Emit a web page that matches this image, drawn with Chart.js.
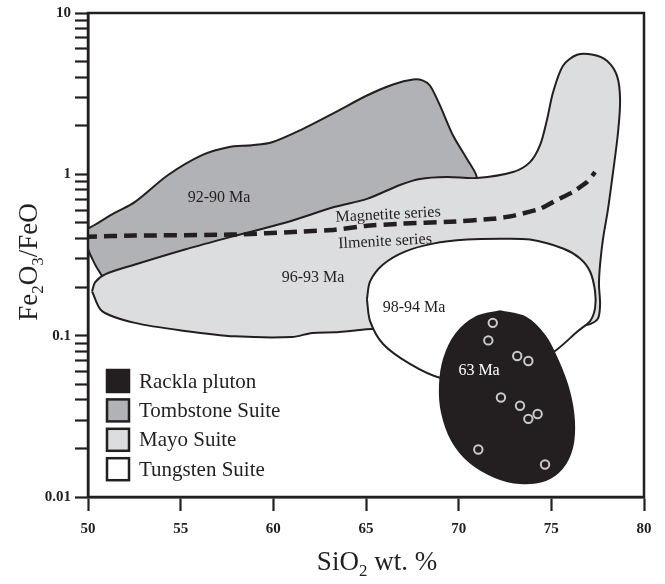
<!DOCTYPE html>
<html>
<head>
<meta charset="utf-8">
<script src="https://cdn.jsdelivr.net/npm/chart.js@4.4.1/dist/chart.umd.min.js"></script>
<style>
  html, body { margin: 0; padding: 0; background: #fff; }
  #c { display: block; }
</style>
</head>
<body>
<canvas id="c" width="665" height="584"></canvas>
<script>
// Fe2O3/FeO vs SiO2 discrimination diagram (log y)

// Tombstone Suite field outline (SiO2 wt.%, Fe2O3/FeO)
const tombstoneX = [50.00, 50.38, 51.46, 52.54, 54.32, 56.15, 57.56, 58.85, 59.93, 61.55, 63.33, 65.05, 66.46, 67.54, 68.08, 68.45, 68.99, 69.69, 70.45, 70.99, 70.61, 67.75, 66.83, 65.05, 63.22, 61.44, 57.77, 55.23, 52.54, 51.08, 50.54, 50.22, 50.00, 50.00];
const tombstoneY = [0.460, 0.487, 0.578, 0.675, 0.990, 1.315, 1.473, 1.515, 1.581, 1.901, 2.420, 3.081, 3.601, 3.867, 3.811, 3.550, 2.673, 1.747, 1.243, 0.949, 0.835, 0.812, 0.756, 0.611, 0.530, 0.460, 0.356, 0.296, 0.240, 0.217, 0.257, 0.301, 0.347, 0.460];

// Mayo Suite field outline
const mayoX = [50.22, 50.38, 50.92, 52.54, 55.23, 57.77, 60.63, 63.33, 65.05, 66.83, 67.91, 69.37, 70.99, 72.93, 73.85, 74.39, 74.77, 75.09, 75.63, 76.39, 77.25, 78.00, 78.54, 78.71, 78.60, 78.33, 78.06, 77.79, 77.63, 77.57, 77.63, 77.52, 77.09, 76.55, 71.15, 65.38, 64.14, 63.33, 62.09, 61.01, 57.93, 55.23, 52.54, 50.76, 50.22];
const mayoY = [0.188, 0.214, 0.240, 0.276, 0.342, 0.411, 0.501, 0.629, 0.704, 0.859, 0.936, 0.962, 0.949, 1.033, 1.191, 1.515, 2.191, 3.215, 4.716, 5.511, 5.511, 5.062, 4.090, 2.911, 1.823, 1.033, 0.611, 0.399, 0.276, 0.208, 0.157, 0.128, 0.118, 0.115, 0.104, 0.110, 0.107, 0.105, 0.104, 0.098, 0.099, 0.107, 0.120, 0.142, 0.188];

// Tungsten Suite field outline
const tungstenX = [65.05, 65.22, 65.92, 67.10, 68.62, 70.45, 72.23, 73.85, 75.63, 76.55, 77.09, 77.36, 77.36, 77.09, 76.44, 75.20, 73.31, 71.15, 68.99, 67.37, 65.92, 65.22, 65.05];
const tungstenY = [0.168, 0.217, 0.276, 0.332, 0.372, 0.394, 0.399, 0.394, 0.347, 0.301, 0.250, 0.188, 0.148, 0.123, 0.107, 0.0804, 0.0605, 0.0510, 0.0548, 0.0668, 0.0888, 0.123, 0.168];

// Rackla pluton field outline
const racklaX = [72.23, 73.58, 74.66, 75.36, 75.95, 76.22, 76.12, 75.58, 74.66, 73.31, 71.96, 70.61, 69.64, 69.10, 68.99, 69.21, 69.86, 70.94, 72.23];
const racklaY = [0.1418, 0.1302, 0.0994, 0.0697, 0.0456, 0.0298, 0.0203, 0.0151, 0.0127, 0.0122, 0.0133, 0.0164, 0.0224, 0.0334, 0.0489, 0.0718, 0.1023, 0.1302, 0.1418];

// Rackla pluton samples
const sampleX = [71.84, 71.60, 73.16, 73.76, 72.28, 73.31, 74.26, 73.76, 71.06, 74.66];
const sampleY = [0.1201, 0.0935, 0.0748, 0.0697, 0.0414, 0.0368, 0.0327, 0.0305, 0.0197, 0.0159];

// Magnetite / ilmenite series boundary
const boundaryX = [50.00, 52.54, 57.77, 61.44, 63.33, 65.05, 66.83, 69.53, 71.85, 72.93, 74.39, 75.31, 76.17, 76.93, 77.36];
const boundaryY = [0.411, 0.417, 0.423, 0.441, 0.454, 0.480, 0.494, 0.508, 0.530, 0.553, 0.611, 0.695, 0.778, 0.897, 1.033];

// Axis ticks
const xTickValues = [50, 55, 60, 65, 70, 75, 80];
const yTickValues = [0.01, 0.02, 0.03, 0.04, 0.05, 0.06, 0.07, 0.08, 0.09,
                     0.1, 0.2, 0.3, 0.4, 0.5, 0.6, 0.7, 0.8, 0.9,
                     1, 2, 3, 4, 5, 6, 7, 8, 9, 10];
const yLabelValues = [0.01, 0.1, 1, 10];
const yLabelText = ['0.01', '0.1', '1', '10'];

// Field annotations
const noteText = ['92-90 Ma', '96-93 Ma', '98-94 Ma', '63 Ma', 'Magnetite series', 'Ilmenite series'];
const noteX = [57.07, 62.14, 67.59, 71.10, 66.19, 66.03];
const noteY = [0.714, 0.230, 0.148, 0.0605, 0.561, 0.383];

const INK = '#231f20';
const SERIF = '"Liberation Serif", "Times New Roman", serif';
const noteColor = [INK, INK, INK, '#ffffff', INK, INK];
const noteAngle = [0, 0, 0, 0, -3, -3];

const zip = (xs, ys) => xs.map((x, i) => ({ x, y: ys[i] }));

function field(label, xs, ys, color, order) {
  return {
    label,
    data: zip(xs, ys),
    borderColor: INK,
    borderWidth: 2,
    backgroundColor: color,
    fill: 'shape',
    tension: 0.3,
    pointRadius: 0,
    order
  };
}

const datasets = [
  field('Tombstone Suite', tombstoneX, tombstoneY, '#b1b2b5', 6),
  field('Mayo Suite', mayoX, mayoY, '#dcdddf', 5),
  field('Tungsten Suite', tungstenX, tungstenY, '#ffffff', 4),
  field('Rackla pluton', racklaX, racklaY, INK, 3),
  {
    label: 'series boundary',
    data: zip(boundaryX, boundaryY),
    borderColor: INK,
    borderWidth: 4.5,
    borderDash: [13, 7],
    borderDashOffset: 4,
    fill: false,
    tension: 0.15,
    pointRadius: 0,
    order: 2
  },
  {
    label: 'samples',
    data: zip(sampleX, sampleY),
    showLine: false,
    pointRadius: 4.2,
    pointBorderWidth: 2,
    pointBorderColor: '#c9cacb',
    pointBackgroundColor: INK,
    order: 1
  }
];

const legendItems = ['Rackla pluton', 'Tombstone Suite', 'Mayo Suite', 'Tungsten Suite'];

// Frame, annotations, legend and axis titles
const decor = {
  id: 'decor',
  afterDatasetsDraw(chart) {
    const { ctx, chartArea: a, scales: { x, y } } = chart;
    ctx.save();
    // plot frame
    ctx.strokeStyle = INK;
    ctx.lineWidth = 2.5;
    ctx.strokeRect(a.left, a.top, a.right - a.left, a.bottom - a.top);

    // field annotations
    ctx.font = '16px ' + SERIF;
    ctx.textAlign = 'center';
    ctx.textBaseline = 'middle';
    noteText.forEach((t, i) => {
      ctx.save();
      ctx.translate(x.getPixelForValue(noteX[i]), y.getPixelForValue(noteY[i]));
      ctx.rotate(noteAngle[i] * Math.PI / 180);
      ctx.fillStyle = noteColor[i];
      ctx.fillText(t, 0, 0);
      ctx.restore();
    });

    // legend
    const boxX = a.left + 19, box = 22, step = 29.4;
    const top0 = a.top + 357;
    ctx.textAlign = 'left';
    ctx.font = '21px ' + SERIF;
    legendItems.forEach((name, i) => {
      const ds = chart.data.datasets.find(d => d.label === name);
      const top = top0 + i * step;
      ctx.fillStyle = ds.backgroundColor;
      ctx.fillRect(boxX, top, box, box);
      ctx.lineWidth = 2.5;
      ctx.strokeStyle = INK;
      ctx.strokeRect(boxX, top, box, box);
      ctx.fillStyle = INK;
      ctx.fillText(name, boxX + 32, top + box / 2 + 1);
    });
    ctx.restore();
  },
  afterDraw(chart) {
    const { ctx } = chart;
    const runs = (parts, size) => {
      const big = size + 'px ' + SERIF, small = Math.round(size * 0.62) + 'px ' + SERIF;
      let w = 0;
      parts.forEach(p => { ctx.font = p.sub ? small : big; p.w = ctx.measureText(p.t).width; w += p.w; });
      return { w, draw(x0, base) {
        let cx = x0;
        parts.forEach(p => {
          ctx.font = p.sub ? small : big;
          ctx.fillText(p.t, cx, p.sub ? base + size * 0.22 : base);
          cx += p.w;
        });
      } };
    };
    ctx.save();
    ctx.fillStyle = INK;
    ctx.textAlign = 'left';
    ctx.textBaseline = 'alphabetic';
    // x title
    const xt = runs([{ t: 'SiO' }, { t: '2', sub: true }, { t: ' wt. %' }], 27);
    xt.draw(377 - xt.w / 2, 570);
    // y title
    const yt = runs([{ t: 'Fe' }, { t: '2', sub: true }, { t: 'O' }, { t: '3', sub: true }, { t: '/FeO' }], 27);
    ctx.translate(37, 262);
    ctx.rotate(-Math.PI / 2);
    yt.draw(-yt.w / 2, 0);
    ctx.restore();
  }
};

new Chart(document.getElementById('c'), {
  type: 'line',
  data: { datasets },
  options: {
    responsive: false,
    animation: false,
    events: [],
    layout: { padding: { top: 10, right: 21, left: 0, bottom: 0 } },
    plugins: { legend: { display: false }, tooltip: { enabled: false } },
    scales: {
      x: {
        type: 'linear',
        min: 50, max: 80,
        afterBuildTicks: s => { s.ticks = xTickValues.map(v => ({ value: v })); },
        afterFit: s => { s.height = 87; },
        grid: { drawOnChartArea: false, drawTicks: true, tickLength: 14, tickWidth: 2.2, tickColor: INK },
        border: { display: true, width: 2.5, color: INK },
        ticks: {
          autoSkip: false, maxRotation: 0, padding: 9, color: INK,
          font: { family: SERIF, size: 15, weight: 'bold' },
          callback: v => String(v)
        }
      },
      y: {
        type: 'logarithmic',
        min: 0.01, max: 10,
        afterBuildTicks: s => { s.ticks = yTickValues.map(v => ({ value: v })); },
        afterFit: s => { s.width = 88; },
        grid: { drawOnChartArea: false, drawTicks: true, tickLength: 13, tickWidth: 2.2, tickColor: INK },
        border: { display: true, width: 2.5, color: INK },
        ticks: {
          autoSkip: false, padding: 4, color: INK,
          font: { family: SERIF, size: 15, weight: 'bold' },
          callback: v => { const k = yLabelValues.indexOf(v); return k >= 0 ? yLabelText[k] : ''; }
        }
      }
    }
  },
  plugins: [decor]
});
</script>
</body>
</html>
